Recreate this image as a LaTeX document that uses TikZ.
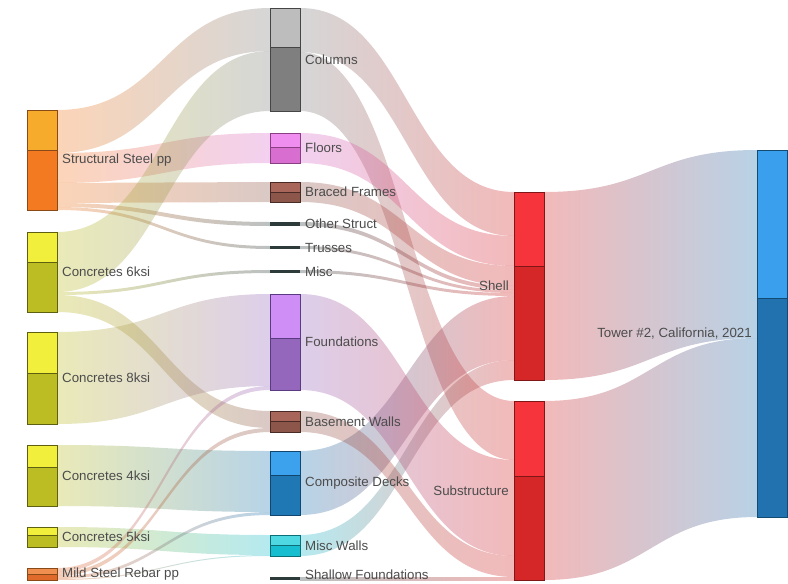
\documentclass[tikz,border=0pt]{standalone}
\usepackage{fontspec}
\setmainfont{Liberation Sans}
\begin{document}
\begin{tikzpicture}[x=1pt,y=-1pt,
  lbl/.style={font=\fontsize{13.3}{15}\selectfont,text=black!70,inner sep=0pt},
  bandstyle/.style={opacity=0.32}]
\useasboundingbox (0,0) rectangle (788,584);
% colours
\definecolor{ssT}{HTML}{F7AB2D}\definecolor{ssB}{HTML}{F47A22}\definecolor{ssD}{HTML}{8A4A18}
\definecolor{cT}{HTML}{F2EE3C}\definecolor{cB}{HTML}{BCBD22}\definecolor{cD}{HTML}{5F600F}
\definecolor{msT}{HTML}{F09050}\definecolor{msB}{HTML}{E06A2A}
\definecolor{colT}{HTML}{BDBDBD}\definecolor{colB}{HTML}{7F7F7F}\definecolor{colD}{HTML}{454545}
\definecolor{flT}{HTML}{F08EF0}\definecolor{flB}{HTML}{D86FD0}\definecolor{flD}{HTML}{8A3F85}
\definecolor{brT}{HTML}{A8655A}\definecolor{brB}{HTML}{8C564B}\definecolor{brD}{HTML}{4A2A25}
\definecolor{dk}{HTML}{2E3B3B}
\definecolor{fdT}{HTML}{CF8EF5}\definecolor{fdB}{HTML}{9467BD}\definecolor{fdD}{HTML}{5A3A80}
\definecolor{cdT}{HTML}{3DA2EE}\definecolor{cdB}{HTML}{1F77B4}\definecolor{cdD}{HTML}{12466F}
\definecolor{mwT}{HTML}{4FD8E2}\definecolor{mwB}{HTML}{17BECF}\definecolor{mwD}{HTML}{0C6F78}
\definecolor{rdT}{HTML}{F5343C}\definecolor{rdB}{HTML}{D62728}\definecolor{rdD}{HTML}{7F1719}
\definecolor{twT}{HTML}{3AA0EE}\definecolor{twB}{HTML}{2272B0}\definecolor{twD}{HTML}{134A72}
% band macro: x0 x1 ytop0 ybot0 ytop1 ybot1 colA colB
\newcommand\band[8]{%
  \shade[bandstyle,left color=#7,right color=#8]
   (#1,#3) .. controls ({(#1+#2)/2},#3) and ({(#1+#2)/2},#5) .. (#2,#5)
   -- (#2,#6) .. controls ({(#1+#2)/2},#6) and ({(#1+#2)/2},#4) .. (#1,#4) -- cycle;}
% bar macro: x ytop ysplit ybot topcol botcol border
\newcommand\sbar[7]{%
  \fill[#5] (#1,#2) rectangle (#1+30,#3);
  \fill[#6] (#1,#3) rectangle (#1+30,#4);
  \draw[#7,line width=1pt] (#1,#3) -- (#1+30,#3);
  \draw[#7,line width=1pt] (#1,#2) rectangle (#1+30,#4);}
\newcommand\thinbar[3]{\fill[dk] (#1,#2) rectangle (#1+30,#3);}

% ---------- bands left -> middle
\band{57}{270}{110}{153}{8}{51}{ssB}{colB}
\band{57}{270}{153}{183}{133}{163}{ssB}{flB}
\band{57}{270}{183}{203}{182}{202}{ssB}{brB}
\band{57}{270}{203}{207}{222}{226}{ssB}{dk}
\band{57}{270}{207}{210}{246}{249}{ssB}{dk}
\band{57}{270}{232}{292}{51}{111}{cB}{colB}
\band{57}{270}{292}{295}{270}{273}{cB}{dk}
\band{57}{270}{295}{312}{411}{428}{cB}{brB}
\band{57}{270}{332}{424}{294}{386}{cB}{fdB}
\band{57}{270}{445}{506}{451}{512}{cB}{cdB}
\band{57}{270}{527}{547}{535}{555}{cB}{mwB}
\band{57}{270}{568}{572}{386}{390}{msB}{fdB}
\band{57}{270}{572}{576}{428}{432}{msB}{brB}
\band{57}{270}{576}{579}{512}{515}{msB}{cdB}
\band{57}{270}{579}{580}{555}{556}{msB}{mwB}
% ---------- bands middle -> shell / substructure
\band{300}{514}{8}{52}{192}{236}{colB}{rdB}
\band{300}{514}{52}{111}{401}{460}{colB}{rdB}
\band{300}{514}{133}{163}{236}{266}{flB}{rdB}
\band{300}{514}{182}{202}{266}{286}{brB}{rdB}
\band{300}{514}{222}{226}{286}{290}{dk}{rdB}
\band{300}{514}{246}{249}{290}{293}{dk}{rdB}
\band{300}{514}{270}{273}{293}{296}{dk}{rdB}
\band{300}{514}{451}{515}{296}{360}{cdB}{rdB}
\band{300}{514}{535}{556}{360}{380}{mwB}{rdB}
\band{300}{514}{294}{390}{460}{556}{fdB}{rdB}
\band{300}{514}{411}{432}{556}{577}{brB}{rdB}
\band{300}{514}{577}{580}{577}{580}{dk}{rdB}
% ---------- bands -> tower
\band{544}{757}{192}{380}{150}{338}{rdB}{twB}
\band{544}{757}{401}{580}{338}{517}{rdB}{twB}

% ---------- bars
\sbar{27}{110}{150}{210}{ssT}{ssB}{ssD}
\sbar{27}{232}{262}{312}{cT}{cB}{cD}
\sbar{27}{332}{373}{424}{cT}{cB}{cD}
\sbar{27}{445}{467}{506}{cT}{cB}{cD}
\sbar{27}{527}{535}{547}{cT}{cB}{cD}
\sbar{27}{568}{574}{580}{msT}{msB}{ssD}
\sbar{270}{8}{47}{111}{colT}{colB}{colD}
\sbar{270}{133}{147}{163}{flT}{flB}{flD}
\sbar{270}{182}{192}{202}{brT}{brB}{brD}
\thinbar{270}{222}{226}
\thinbar{270}{246}{249}
\thinbar{270}{270}{273}
\sbar{270}{294}{338}{390}{fdT}{fdB}{fdD}
\sbar{270}{411}{421}{432}{brT}{brB}{brD}
\sbar{270}{451}{475}{515}{cdT}{cdB}{cdD}
\sbar{270}{535}{545}{556}{mwT}{mwB}{mwD}
\thinbar{270}{577}{580}
\sbar{514}{192}{266}{380}{rdT}{rdB}{rdD}
\sbar{514}{401}{476}{580}{rdT}{rdB}{rdD}
\sbar{757}{150}{298}{517}{twT}{twB}{twD}

% ---------- labels
\node[lbl,anchor=west] (lss) at (62,160) {Structural Steel pp};
\node[lbl,anchor=west] (lc6) at (62,272) {Concretes 6ksi};
\node[lbl,anchor=west] (lc8) at (62,378) {Concretes 8ksi};
\node[lbl,anchor=west] (lc4) at (62,476) {Concretes 4ksi};
\node[lbl,anchor=west] (lc5) at (62,537) {Concretes 5ksi};
\node[lbl,anchor=west] (lms) at (62,574) {Mild Steel Rebar pp};
\node[lbl,anchor=west] (lcol) at (305,60) {Columns};
\node[lbl,anchor=west] (lfl) at (305,148) {Floors};
\node[lbl,anchor=west] (lbr) at (305,192) {Braced Frames};
\node[lbl,anchor=west] (lot) at (305,224) {Other Struct};
\node[lbl,anchor=west] (ltr) at (305,248) {Trusses};
\node[lbl,anchor=west] (lmi) at (305,272) {Misc};
\node[lbl,anchor=west] (lfd) at (305,342) {Foundations};
\node[lbl,anchor=west] (lbw) at (305,422) {Basement Walls};
\node[lbl,anchor=west] (lcd) at (305,483) {Composite Decks};
\node[lbl,anchor=west] (lmw) at (305,546) {Misc Walls};
\node[lbl,anchor=west] (lsf) at (305,575) {Shallow Foundations};
\node[lbl,anchor=east] (lsh) at (509,286) {Shell};
\node[lbl,anchor=east] (lsu) at (509,491) {Substructure};
\node[lbl,anchor=east] (ltw) at (752,334) {Tower \#2, California, 2021};
\end{tikzpicture}
\end{document}
